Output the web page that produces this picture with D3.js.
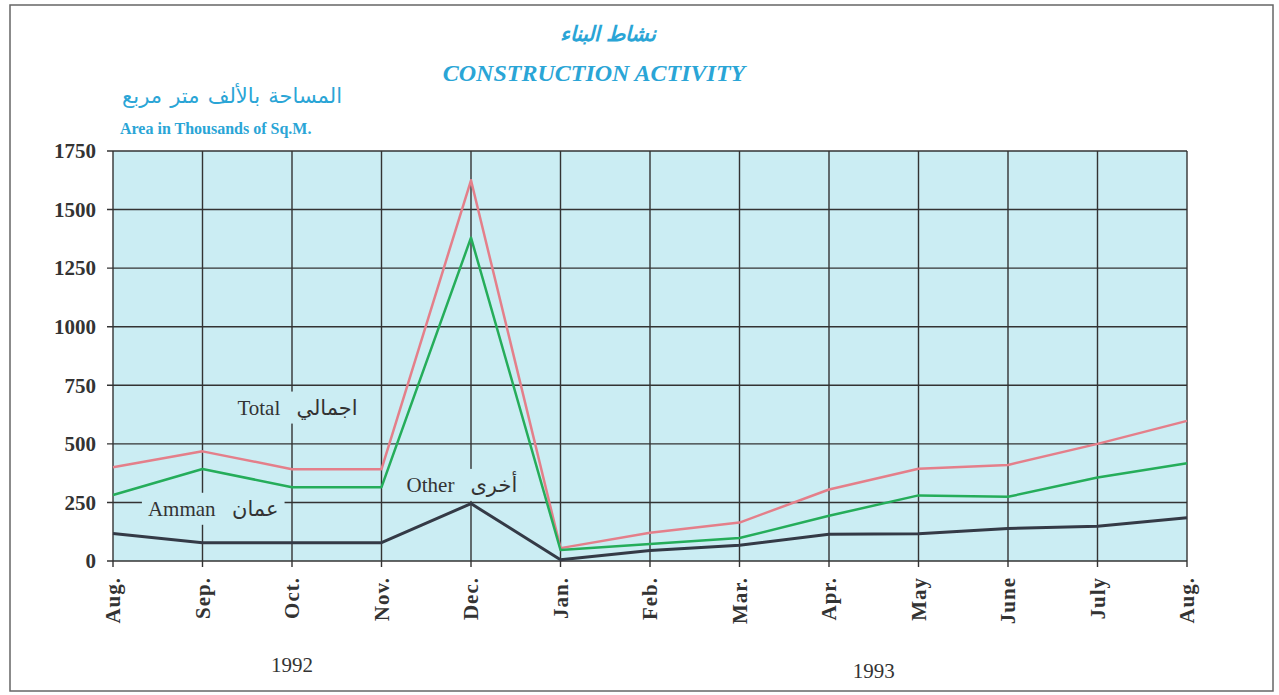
<!DOCTYPE html>
<html>
<head>
<meta charset="utf-8">
<script src="https://cdn.jsdelivr.net/npm/d3@7"></script>
<style>
  body { margin: 0; background: #fff; }
  text { font-family: "Liberation Serif", "DejaVu Sans", serif; }
</style>
</head>
<body>
<script>
const width = 1279;
const height = 695;

// data (thousands of sq.m.)
const months = ["Aug.", "Sep.", "Oct.", "Nov.", "Dec.", "Jan.", "Feb.", "Mar.", "Apr.", "May", "June", "July", "Aug."];
const total = [400, 468, 392, 392, 1625, 55, 121, 164, 305, 394, 410, 500, 598];
const amman = [282, 393, 315, 315, 1380, 47, 73, 98, 193, 280, 274, 356, 417];
const other = [117, 78, 78, 78, 245, 5, 45, 67, 114, 116, 139, 148, 185];
const yTicks = [0, 250, 500, 750, 1000, 1250, 1500, 1750];

const series = [
  { name: "total", values: total, color: "#e47f8a", width: 2.5 },
  { name: "amman", values: amman, color: "#25ad5a", width: 2.5 },
  { name: "other", values: other, color: "#343a46", width: 3 }
];

const margin = { top: 151, right: 92, bottom: 134, left: 113 };
const bg = "#cbedf3";
const ink = "#333";
const blue = "#2aa5d6";

const x = d3.scalePoint()
  .domain(d3.range(months.length))
  .range([margin.left, width - margin.right]);
const step = x.step();

const y = d3.scaleLinear()
  .domain([0, 1750])
  .range([height - margin.bottom, margin.top]);

const svg = d3.select("body")
  .append("svg")
  .attr("width", width)
  .attr("height", height);

// outer frame
svg.append("rect")
  .attr("x", 10).attr("y", 5)
  .attr("width", 1263).attr("height", 686)
  .attr("fill", "none")
  .attr("stroke", "#666")
  .attr("stroke-width", 1.5);

// plot background
svg.append("rect")
  .attr("x", x(0)).attr("y", y(1750))
  .attr("width", x(12) - x(0))
  .attr("height", y(0) - y(1750))
  .attr("fill", bg);

// grid
const grid = svg.append("g")
  .attr("stroke", ink)
  .attr("stroke-width", 1.4);

grid.selectAll("line.h")
  .data(yTicks)
  .join("line")
  .attr("class", "h")
  .attr("x1", x(0) - 6).attr("x2", x(12))
  .attr("y1", d => y(d)).attr("y2", d => y(d));

grid.selectAll("line.v")
  .data(d3.range(months.length))
  .join("line")
  .attr("class", "v")
  .attr("x1", d => x(d)).attr("x2", d => x(d))
  .attr("y1", y(1750)).attr("y2", y(0) + 6);

// y tick labels
svg.append("g")
  .selectAll("text")
  .data(yTicks)
  .join("text")
  .attr("x", x(0) - 17)
  .attr("y", d => y(d))
  .attr("dy", "0.35em")
  .attr("text-anchor", "end")
  .attr("font-size", 21)
  .attr("font-weight", "bold")
  .attr("fill", ink)
  .text(d => d);

// x tick labels, rotated
svg.append("g")
  .selectAll("text")
  .data(months)
  .join("text")
  .attr("transform", (d, i) => `translate(${x(i)},${y(0) + 16}) rotate(-90)`)
  .attr("dy", "0.35em")
  .attr("text-anchor", "end")
  .attr("font-size", 21)
  .attr("font-weight", "bold")
  .attr("letter-spacing", 1)
  .attr("fill", ink)
  .text(d => d);

// in-plot labels, with a background patch that breaks the grid
const inLabels = [
  { en: "Total", ar: "اجمالي", i: 1.39, v: 625 },
  { en: "Amman", ar: "عمان", i: 0.39, v: 193 },
  { en: "Other", ar: "أخرى", i: 3.28, v: 295 }
];

const lab = svg.append("g")
  .selectAll("g")
  .data(inLabels)
  .join("g")
  .attr("transform", d => `translate(${margin.left + d.i * step},${y(d.v)})`);

lab.append("rect")
  .attr("class", "patch")
  .attr("fill", bg);

lab.append("text")
  .attr("class", "en")
  .attr("font-size", 21)
  .attr("fill", ink)
  .text(d => d.en);

lab.append("text")
  .attr("class", "ar")
  .attr("font-size", 21)
  .attr("fill", ink)
  .attr("direction", "rtl")
  .attr("text-anchor", "end")
  .text(d => d.ar);

lab.each(function() {
  const g = d3.select(this);
  const en = g.select("text.en").node().getBBox();
  g.select("text.ar").attr("x", en.width + 16);
  const w = en.width + 16 + g.select("text.ar").node().getBBox().width;
  g.select("rect.patch")
    .attr("x", -6).attr("y", en.y - 4)
    .attr("width", w + 12).attr("height", en.height + 8);
});

// series lines
const line = d3.line()
  .x((d, i) => x(i))
  .y(d => y(d));

svg.append("g")
  .selectAll("path")
  .data(series)
  .join("path")
  .attr("d", d => line(d.values))
  .attr("fill", "none")
  .attr("stroke", d => d.color)
  .attr("stroke-width", d => d.width)
  .attr("stroke-linejoin", "round");

// titles
svg.append("text")
  .attr("x", 608).attr("y", 41)
  .attr("text-anchor", "middle")
  .attr("font-size", 21)
  .attr("font-weight", "bold")
  .attr("font-style", "italic")
  .attr("fill", blue)
  .text("نشاط البناء");

svg.append("text")
  .attr("x", 594).attr("y", 81)
  .attr("text-anchor", "middle")
  .attr("font-size", 24)
  .attr("font-weight", "bold")
  .attr("font-style", "italic")
  .attr("fill", blue)
  .text("CONSTRUCTION ACTIVITY");

svg.append("text")
  .attr("x", 342).attr("y", 103)
  .attr("text-anchor", "end")
  .attr("font-size", 21)
  .attr("word-spacing", 3)
  .attr("fill", blue)
  .text("المساحة بالألف متر مربع");

svg.append("text")
  .attr("x", 120).attr("y", 134)
  .attr("font-size", 16)
  .attr("font-weight", "bold")
  .attr("fill", blue)
  .text("Area in Thousands of Sq.M.");

// years
svg.append("text")
  .attr("x", margin.left + 2 * step).attr("y", 672)
  .attr("text-anchor", "middle")
  .attr("font-size", 21)
  .attr("fill", ink)
  .text("1992");

svg.append("text")
  .attr("x", margin.left + 8.5 * step).attr("y", 678)
  .attr("text-anchor", "middle")
  .attr("font-size", 21)
  .attr("fill", ink)
  .text("1993");
</script>
</body>
</html>
